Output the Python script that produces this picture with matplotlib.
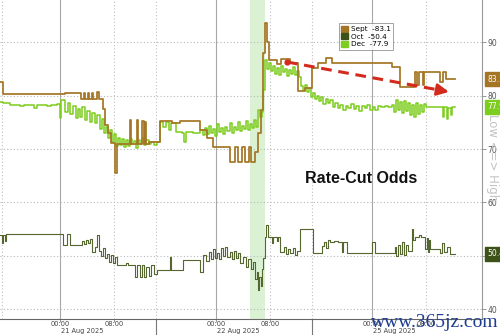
import matplotlib
matplotlib.use("Agg")
import matplotlib.pyplot as plt
import matplotlib.transforms as mtransforms
from matplotlib.patches import Patch

# ---------------- data (x = trading hours from left edge of chart) ----------------
sept_t = [0.0, 0.5, 9.6, 12.0, 12.4, 12.6, 13.0, 13.2, 13.6, 13.8, 14.4, 14.6, 15.2, 15.6,
          16.0, 16.4, 17.0, 17.3, 19.2, 19.4, 20.3, 20.5, 21.1, 21.3, 21.5, 21.6, 22.0,
          23.7, 25.5, 26.6, 29.6, 30.6, 31.6, 34.1, 34.8, 35.3, 35.9, 36.3, 36.9, 37.2,
          37.8, 38.2, 38.6, 39.0, 39.3, 39.6, 39.9, 41.0, 41.6, 43.0, 44.1, 45.2, 46.2,
          47.1, 48.3, 49.2, 58.1, 59.3, 61.5, 61.8, 62.1, 62.6, 62.8, 65.2, 65.6, 66.0, 67.4]
sept_v = [82.5, 80.3, 80.5, 79.3, 80.5, 79.3, 80.5, 79.3, 80.5, 79.3, 80.6, 79.3, 77.5, 74.5,
          73.0, 71.1, 65.5, 71.0, 75.4, 71.0, 75.4, 71.0, 75.2, 71.0, 75.0, 71.0, 71.4,
          75.2, 74.8, 75.2, 73.6, 72.1, 70.4, 67.6, 70.4, 67.6, 70.4, 67.6, 70.4, 67.6,
          69.5, 73.0, 77.3, 88.0, 93.6, 90.0, 86.6, 86.0, 86.8, 86.2, 80.8, 81.5, 85.2,
          86.1, 87.0, 86.1, 85.3, 81.6, 84.4, 82.0, 84.4, 82.0, 84.4, 82.5, 84.4, 83.1, 83.1]

oct_t = [0.0, 0.3, 0.5, 0.7, 0.9, 9.3, 9.9, 10.4, 12.2, 12.5, 12.8, 13.1, 13.4,
         13.6, 14.0, 14.4, 14.6, 14.9, 15.2, 15.5, 15.8, 16.1, 16.4, 16.7, 17.0, 17.3, 18.6,
         19.0, 20.0, 20.3, 20.7, 21.0, 21.3, 21.6, 22.0, 22.4, 22.8, 23.2, 25.2, 25.4, 27.1,
         29.6, 30.1, 30.5, 31.0, 31.3, 31.6, 31.9, 32.2, 32.5, 32.8, 33.1, 33.4, 33.7, 34.0,
         34.3, 34.6, 34.9, 35.2, 35.5, 36.0, 36.4, 36.8, 37.2, 37.5, 37.8, 38.0, 38.2, 38.4,
         38.6, 38.8, 39.0, 39.2, 39.4, 39.7, 40.3, 40.5, 41.0, 41.2, 41.5, 42.0, 42.3, 42.6,
         43.0, 43.4, 43.7, 44.0, 44.4, 46.4, 47.7, 48.0, 48.3, 48.6, 48.9, 49.5, 50.0, 50.6,
         50.8, 51.4, 55.1, 55.6, 58.5, 58.7, 59.0, 59.3, 59.6, 59.9, 60.2, 60.5, 61.0, 61.2,
         61.5, 62.0, 62.4, 63.0, 63.2, 63.4, 63.6, 63.7, 65.2, 65.5, 65.8, 66.2, 66.6, 67.4]
oct_v = [53.9, 52.5, 54.0, 52.8, 54.1, 52.1, 54.1, 52.1, 52.8, 52.2, 53.0, 52.4, 53.2,
         50.7, 51.6, 53.9, 51.0, 50.0, 51.4, 49.6, 50.4, 48.8, 50.2, 48.7, 49.8, 48.3, 48.6,
         48.3, 46.1, 48.3, 46.1, 48.3, 46.1, 48.0, 46.3, 48.3, 46.6, 47.4, 49.8, 47.4, 49.3,
         47.0, 50.2, 49.0, 50.8, 49.4, 51.2, 49.6, 50.6, 49.4, 51.4, 50.0, 51.6, 49.8, 50.8,
         49.4, 51.0, 49.6, 50.6, 48.6, 49.8, 48.0, 49.4, 47.6, 48.8, 45.6, 47.0, 43.6, 46.0,
         44.4, 47.5, 49.6, 53.6, 55.8, 53.6, 52.4, 53.6, 52.8, 53.6, 50.8, 51.6, 50.4, 51.2,
         50.6, 51.4, 50.2, 51.0, 55.0, 50.6, 51.8, 52.6, 51.4, 53.0, 52.6, 52.8, 52.6, 50.8,
         52.6, 50.6, 52.6, 50.6, 51.6, 50.0, 52.0, 50.4, 52.6, 50.2, 52.0, 51.0, 55.0, 53.0,
         53.6, 54.0, 53.6, 51.2, 53.4, 50.8, 53.0, 51.3, 50.6, 52.4, 50.8, 51.6, 50.4, 50.4]

dec_t = [0.0, 0.5, 1.5, 3.0, 3.5, 5.0, 5.5, 7.0, 7.5, 8.5, 8.9, 9.1, 9.6, 10.0, 10.4, 10.8,
         11.2, 11.5, 11.9, 12.2, 12.6, 12.9, 13.3, 13.6, 14.0, 14.4, 14.8, 15.1, 15.4, 15.7,
         16.0, 16.3, 16.6, 16.9, 17.2, 17.5, 17.8, 18.1, 18.4, 18.7, 19.0, 19.3, 19.6, 19.9,
         20.2, 20.5, 20.8, 21.1, 21.4, 21.7, 22.0, 22.4, 22.8, 23.2, 23.7, 24.2, 24.6, 25.0,
         25.3, 26.0, 27.0, 27.3, 27.5, 28.6, 29.6, 30.0, 30.3, 30.6, 30.9, 31.2, 31.5, 31.9,
         32.2, 32.5, 32.8, 33.1, 33.4, 33.7, 34.0, 34.3, 34.6, 34.9, 35.2, 35.5, 35.8, 36.1,
         36.4, 36.7, 37.0, 37.3, 37.6, 37.9, 38.2, 38.5, 38.8, 39.0, 39.2, 39.5, 39.8, 40.1,
         40.4, 40.7, 41.0, 41.3, 41.6, 41.9, 42.2, 42.5, 42.8, 43.1, 43.4, 43.7, 44.0, 44.3,
         44.6, 44.9, 45.2, 45.5, 45.8, 46.1, 46.4, 46.7, 47.0, 47.3, 47.6, 47.9, 48.3, 48.6,
         48.9, 49.3, 49.6, 50.0, 50.4, 50.8, 51.2, 51.6, 52.0, 52.4, 52.8, 53.2, 53.6, 54.0,
         54.4, 54.8, 55.2, 55.6, 56.0, 56.5, 57.0, 57.5, 58.0, 58.3, 58.6, 58.9, 59.2, 59.5,
         59.8, 60.1, 60.4, 60.7, 61.0, 61.3, 61.6, 61.9, 62.2, 62.5, 62.8, 63.1, 65.0, 65.6,
         65.8, 66.2, 66.4, 66.8, 67.0, 67.4]
dec_v = [78.8, 78.6, 78.2, 78.0, 78.2, 77.7, 78.2, 78.0, 78.2, 78.4, 75.8, 79.2, 77.0, 78.6,
         76.5, 78.0, 75.8, 77.5, 76.0, 77.8, 75.4, 77.2, 75.0, 76.8, 74.8, 76.4, 73.8, 75.6,
         73.0, 74.2, 72.0, 73.5, 71.4, 72.8, 70.6, 72.0, 70.8, 71.8, 70.4, 71.6, 70.6, 71.9,
         70.9, 71.5, 70.2, 71.7, 71.0, 72.0, 70.8, 71.6, 70.9, 71.4, 70.8, 71.3, 75.0, 74.2,
         75.0, 73.6, 74.8, 73.2, 73.0, 71.3, 73.2, 73.0, 73.6, 72.6, 74.0, 72.8, 74.4, 73.0,
         73.8, 72.5, 74.6, 73.2, 74.0, 72.8, 74.2, 73.4, 74.8, 73.0, 74.2, 73.6, 75.0, 73.4,
         74.4, 73.8, 75.2, 73.6, 74.6, 74.0, 75.4, 74.2, 77.3, 76.0, 77.0, 81.0, 86.6, 85.0,
         86.2, 84.6, 85.6, 84.0, 85.2, 83.8, 85.6, 84.4, 85.0, 83.6, 84.8, 84.0, 85.4, 83.8,
         84.6, 83.4, 81.8, 81.0, 81.9, 80.6, 81.4, 79.8, 80.4, 79.4, 80.0, 79.0, 79.8, 78.4,
         79.4, 78.6, 79.2, 77.8, 78.6, 77.6, 78.2, 77.4, 78.0, 77.6, 78.4, 77.5, 78.0, 77.2,
         78.1, 77.6, 78.3, 77.4, 77.9, 77.3, 78.1, 77.8, 78.0, 77.9, 78.2, 77.0, 79.2, 77.4,
         78.8, 76.8, 79.0, 77.2, 78.6, 76.4, 78.3, 76.0, 78.6, 76.6, 78.2, 77.0, 78.4, 77.9,
         77.9, 76.0, 77.9, 75.6, 77.6, 76.4, 77.9, 77.9]

series_names = ["Sept", "Oct", "Dec"]
last_values = [83.1, 50.4, 77.9]

midnight_ticks = [8.9, 32.0, 55.1]
morning_ticks = [16.9, 40.0, 63.1]
session_bounds = [23.1, 46.2]
date_labels = ["21 Aug 2025", "22 Aug 2025", "25 Aug 2025"]
y_ticks = [40, 50, 60, 70, 80, 90]
fomc_band = (37.0, 39.3)
trend_start = (42.5, 86.3)
trend_end = (66.9, 80.6)

# ---------------- styles ----------------
c_sept = "#a47524"
c_oct = "#55672f"
c_dec = "#7ccd1e"
c_tag_oct = "#3c5219"

fig = plt.figure(figsize=(5.0, 3.35), dpi=100)
ax = fig.add_axes([0.0, 0.048, 0.964, 0.952])
ax.set_xlim(0, 71.4)
ax.set_ylim(38.2, 97.9)

ax.axvspan(*fomc_band, color="#d8f0d0", alpha=0.9, lw=0, zorder=0)

for y in y_ticks:
    ax.axhline(y, color="#b8b8b8", lw=0.8, ls=(0, (1, 2)), zorder=1)
for x in midnight_ticks:
    ax.axvline(x, color="#a8a8a8", lw=0.8, zorder=1)
for x in morning_ticks + session_bounds + [0.3]:
    ax.axvline(x, color="#c0c0c0", lw=0.8, ls=(0, (1, 2)), zorder=1)

ax.plot(oct_t, oct_v, drawstyle="steps-post", color=c_oct, lw=0.8, zorder=3)
ax.plot(dec_t, dec_v, drawstyle="steps-post", color=c_dec, lw=1.1, zorder=4)
ax.plot(sept_t, sept_v, drawstyle="steps-post", color=c_sept, lw=1.25, zorder=5)

# red dashed trend arrow
ax.plot([trend_start[0], trend_end[0] - 0.8], [trend_start[1], trend_end[1] + 0.2],
        color="#d42a1e", lw=2.2, ls=(0, (3.5, 2.2)), zorder=6)
ax.plot([trend_start[0]], [trend_start[1]], "o", color="#d42a1e", ms=3.5, zorder=6)
ax.annotate("", xy=trend_end, xytext=(trend_end[0] - 1.5, trend_end[1] + 0.35),
            arrowprops=dict(arrowstyle="-|>,head_length=0.7,head_width=0.35",
                            color="#d42a1e", lw=2.0), zorder=6)

ax.text(53.5, 64.5, "Rate-Cut Odds", fontsize=11.5, fontweight="bold",
        family="Liberation Sans", ha="center", va="center", color="#111111", zorder=7)

# axes styling
for s in ["top", "left"]:
    ax.spines[s].set_visible(False)
ax.spines["right"].set_color("#999999")
ax.spines["bottom"].set_color("#666666")
ax.spines["right"].set_linewidth(0.8)
ax.spines["bottom"].set_linewidth(0.8)
ax.yaxis.tick_right()
ax.set_yticks(y_ticks)
ax.set_yticklabels([str(v) for v in y_ticks])
ax.tick_params(axis="y", direction="out", length=3, width=0.6, color="#888888",
               labelsize=5.5, labelcolor="#555555", pad=1)
ax.set_xticks(midnight_ticks + morning_ticks)
ax.set_xticklabels([])
ax.tick_params(axis="x", direction="out", length=2, width=0.6, color="#888888")

trans_x = mtransforms.blended_transform_factory(ax.transData, ax.transAxes)
for x in midnight_ticks:
    ax.text(x, -0.007, "00:00", transform=trans_x, fontsize=4.8, color="#444444",
            ha="center", va="top", clip_on=False)
for x in morning_ticks:
    ax.text(x, -0.007, "08:00", transform=trans_x, fontsize=4.8, color="#444444",
            ha="center", va="top", clip_on=False)
for x, lab in zip(midnight_ticks, date_labels):
    ax.text(x + 0.1, -0.030, lab, transform=trans_x, fontsize=4.8, color="#444444",
            ha="left", va="top", clip_on=False)
for x in session_bounds:
    ax.plot([x, x], [0, -0.06], transform=trans_x, color="#777777", lw=0.8, clip_on=False)

# right value tags
trans_y = mtransforms.blended_transform_factory(ax.transAxes, ax.transData)
tag_cols = [c_sept, c_tag_oct, c_dec]
for val, col in zip(last_values, tag_cols):
    ax.text(1.012, val, f"{val:.1f}", transform=trans_y, fontsize=5.5, color="white",
            ha="left", va="center", clip_on=False, zorder=8,
            bbox=dict(boxstyle="square,pad=0.3", fc=col, ec=col))

fig.text(0.986, 0.53, "Low <=> High", rotation=270, fontsize=8.5, color="#c4c4c4",
         ha="center", va="center")

# legend
handles = [Patch(facecolor=c, edgecolor=c) for c in [c_sept, "#3c5219", c_dec]]
labels = [f"{n}  -{v:.1f}" for n, v in zip(series_names, last_values)]
leg = ax.legend(handles, labels, loc="upper left", bbox_to_anchor=(0.703, 0.927),
                fontsize=5.2, frameon=True, fancybox=False, handlelength=0.9,
                handleheight=0.9, handletextpad=0.4, borderpad=0.35, labelspacing=0.15,
                borderaxespad=0)
leg.get_frame().set_edgecolor("#777777")
leg.get_frame().set_linewidth(0.6)
leg.set_zorder(9)

fig.text(0.87, 0.037, "www.365jz.com", fontsize=14, family="Liberation Serif",
         color="#1d3c8f", ha="center", va="center")

fig.savefig("out.png", dpi=100)
